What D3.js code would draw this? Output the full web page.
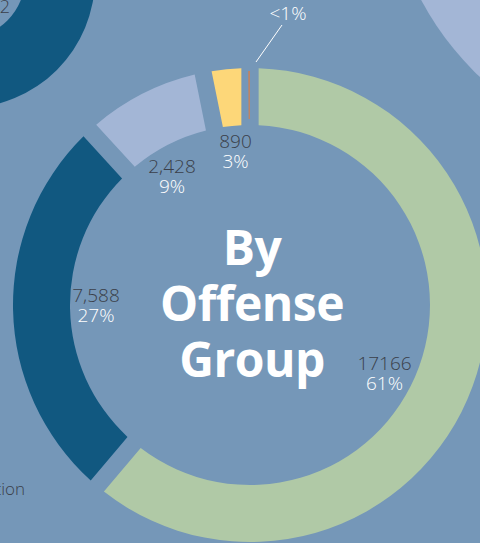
<!DOCTYPE html>
<html>
<head>
<meta charset="utf-8">
<script src="https://cdn.jsdelivr.net/npm/d3@7"></script>
<style>
  html, body { margin: 0; padding: 0; background: #7597b8; overflow: hidden; }
  svg { display: block; }
</style>
</head>
<body>
<svg id="chart"></svg>
<script>
// --- Data ---
const groups = ["g1", "g2", "g3", "g4"];           // offense groups, clockwise from 12 o'clock
const counts = [17166, 7588, 2428, 890];
const countLabels = ["17166", "7,588", "2,428", "890"];
const pctLabels = ["61%", "27%", "9%", "3%"];
const colors = ["#b0c9a6", "#115880", "#a3b6d6", "#fdd779"];
const tinyCount = 30;                               // the "<1%" sliver
const tinyLabel = "<1%";

(function () {
  const W = 480, H = 543;
  const cx = 250, cy = 305;
  const rOuter = 237, rInner = 180;

  const svg = d3.select("#chart").attr("width", W).attr("height", H);

  // --- bits of neighbouring charts (cropped) ---
  svg.append("path")
    .attr("transform", "translate(-35,-22)")
    .attr("d", d3.arc().innerRadius(60).outerRadius(130).startAngle(0).endAngle(2 * Math.PI)())
    .attr("fill", "#115880");
  svg.append("circle")
    .attr("cx", 686).attr("cy", -141).attr("r", 300)
    .attr("fill", "#a3b6d6");
  svg.append("text")
    .attr("x", 10).attr("y", 13)
    .attr("text-anchor", "end")
    .style("font", "300 18px 'Open Sans'")
    .style("fill", "#3a3f4a")
    .text("2");
  svg.append("text")
    .attr("x", 25).attr("y", 495)
    .attr("text-anchor", "end")
    .style("font", "300 17px 'Open Sans'")
    .style("fill", "#3a3f4a")
    .text("tion");

  // --- donut ---
  // slices are proportional; the gap is cut out of each slice (pad on the arc, not the pie)
  const data = groups.map((g, i) => ({ g, value: counts[i], color: colors[i], count: countLabels[i], pct: pctLabels[i] }));
  const pie = d3.pie().value(d => d.value).sort(null);
  const arc = d3.arc().innerRadius(rInner).outerRadius(rOuter).padAngle(0.058);
  const arcs = pie(data);

  const g = svg.append("g").attr("transform", `translate(${cx},${cy})`);
  g.selectAll("path.slice")
    .data(arcs)
    .enter()
    .append("path")
    .attr("class", "slice")
    .attr("d", arc)
    .attr("fill", d => d.data.color);

  // tiny sliver sits inside the gap at 12 o'clock
  const total = d3.sum(counts) + tinyCount;
  const tinyAng = tinyCount / total * 2 * Math.PI;
  g.append("path")
    .attr("d", d3.arc().innerRadius(rInner + 6).outerRadius(rOuter - 3)
      .startAngle(-0.004 - tinyAng / 2).endAngle(-0.004 + tinyAng / 2)())
    .attr("fill", "#c9825a");

  // leader + "<1%"
  svg.append("line")
    .attr("x1", 256).attr("y1", 62).attr("x2", 282).attr("y2", 25)
    .attr("stroke", "#ffffff").attr("stroke-width", 1);
  svg.append("text")
    .attr("x", 288).attr("y", 20)
    .attr("text-anchor", "middle")
    .style("font", "300 19px 'Open Sans'")
    .style("fill", "#ffffff")
    .text(tinyLabel);

  // value labels (hand placed inside the ring like the original)
  const labelPos = [[384.5, 370], [96, 302], [172, 173], [235.5, 148]];
  const lbl = svg.selectAll("g.lbl")
    .data(arcs)
    .enter()
    .append("g")
    .attr("class", "lbl")
    .attr("transform", (d, i) => `translate(${labelPos[i][0]},${labelPos[i][1]})`)
    .attr("text-anchor", "middle")
    .style("font-family", "'Open Sans'")
    .style("font-weight", 300)
    .style("font-size", "19px");
  lbl.append("text").style("fill", "#3a3f4a").text(d => d.data.count);
  lbl.append("text").attr("y", 20).style("fill", "#ffffff").text(d => d.data.pct);

  // centre title
  const title = svg.append("text")
    .attr("text-anchor", "middle")
    .style("font", "700 48px 'Open Sans'")
    .style("fill", "#ffffff")
    .style("letter-spacing", "-0.5px");
  ["By", "Offense", "Group"].forEach((t, i) => {
    title.append("tspan").attr("x", 252).attr("y", 265 + i * 56).text(t);
  });
})();
</script>
</body>
</html>
